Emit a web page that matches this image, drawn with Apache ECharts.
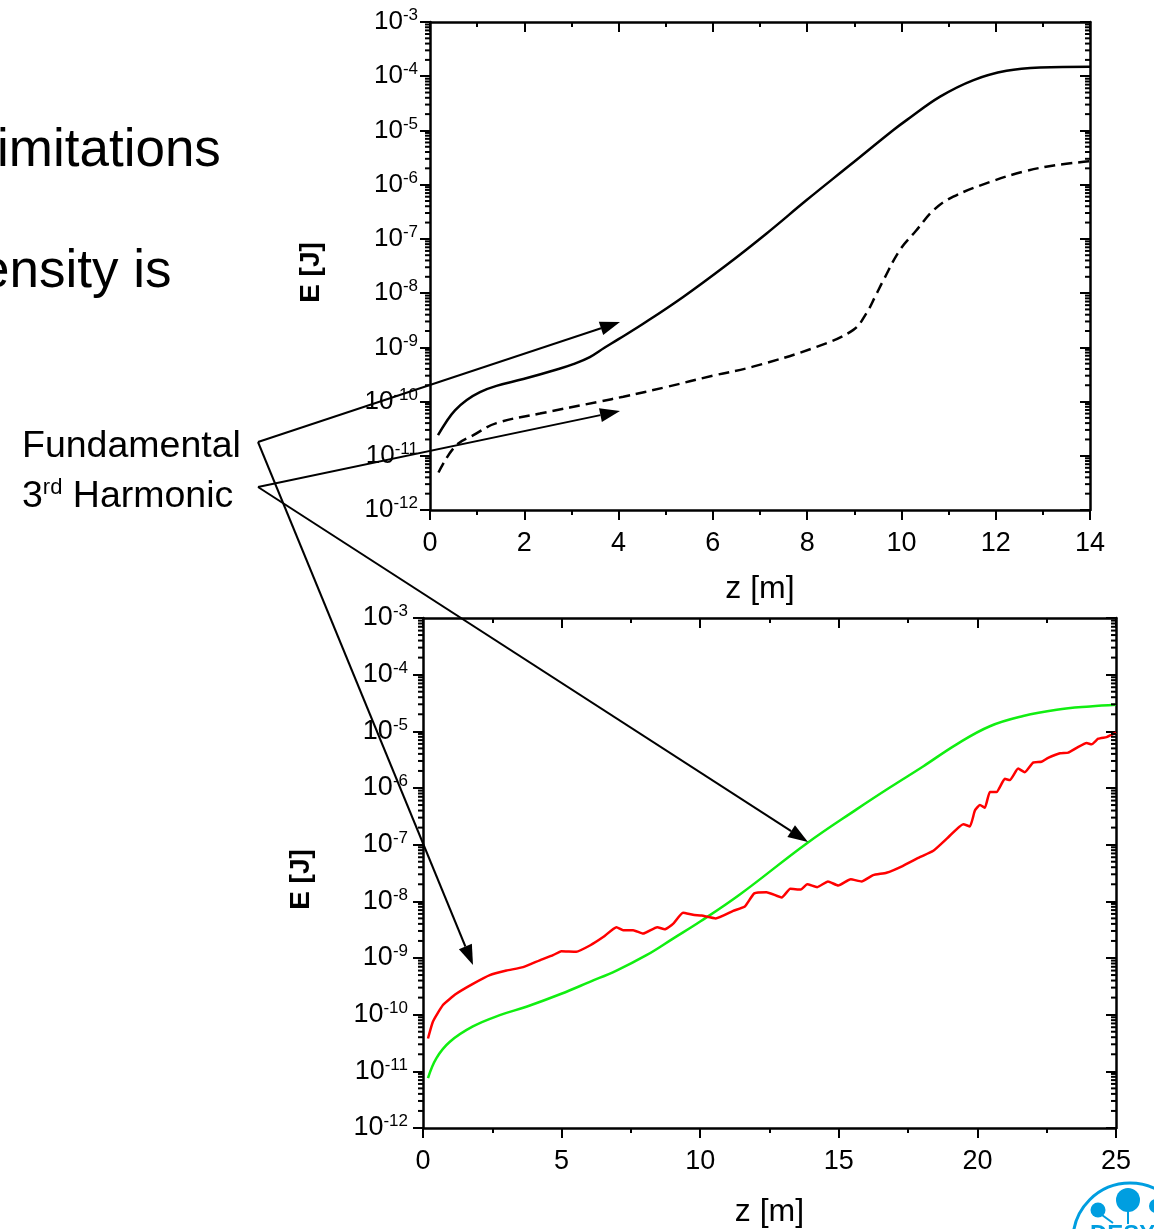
<!DOCTYPE html>
<html>
<head>
<meta charset="utf-8">
<script src="https://cdn.jsdelivr.net/npm/echarts@6/dist/echarts.min.js"></script>
<style>
  html, body { margin: 0; padding: 0; background: #fff; overflow: hidden; }
  #chart { width: 1154px; height: 1229px; }
</style>
</head>
<body>
<div id="chart"></div>
<script>
// top panel: z [m] and energy [J]
const topFundZ = [0.17, 0.35, 0.53, 0.78, 1.06, 1.41, 1.98, 2.69, 3.04, 3.39, 3.7, 3.99, 4.53, 5.37, 6.29, 7.14, 7.99, 8.91, 9.83, 10.11, 10.82, 11.53, 12.23, 12.94, 14];
const topFundE = [2.4e-11, 4.3e-11, 6.9e-11, 1.07e-10, 1.5e-10, 1.95e-10, 2.6e-10, 3.9e-10, 4.9e-10, 6.6e-10, 9.8e-10, 1.4e-9, 2.75e-9, 8.5e-9, 3.3e-8, 1.26e-7, 5.2e-7, 2.3e-6, 1.02e-5, 1.55e-5, 4.2e-5, 8.5e-5, 1.26e-4, 1.45e-4, 1.5e-4];
const topHarmZ = [0.18, 0.53, 0.92, 1.41, 2.33, 3.6, 4.1, 5.02, 6.0, 6.85, 8.2, 8.98, 9.26, 9.45, 9.62, 9.97, 10.3, 10.7, 11.1, 11.88, 12.59, 13.29, 14];
const topHarmE = [4.9e-12, 1.48e-11, 2.4e-11, 4.0e-11, 6.0e-11, 1.0e-10, 1.23e-10, 1.86e-10, 3.0e-10, 4.4e-10, 1.02e-9, 2.1e-9, 4.3e-9, 8.9e-9, 1.74e-8, 6.3e-8, 1.38e-7, 3.5e-7, 6.0e-7, 1.12e-6, 1.74e-6, 2.3e-6, 2.7e-6];

// bottom panel
const botHarmZ = [0.18, 0.48, 0.96, 1.8, 2.77, 3.73, 4.99, 6.02, 6.98, 8.06, 9.02, 10.0, 11.43, 13.84, 15.64, 16.84, 18.04, 19.25, 20.45, 21.65, 22.86, 24.06, 25];
const botHarmE = [7.6e-12, 1.7e-11, 3.3e-11, 6.2e-11, 9.8e-11, 1.38e-10, 2.34e-10, 3.8e-10, 6.0e-10, 1.12e-9, 2.2e-9, 4.4e-9, 1.32e-8, 1.05e-7, 4.2e-7, 1.02e-6, 2.4e-6, 5.9e-6, 1.23e-5, 1.86e-5, 2.4e-5, 2.75e-5, 2.95e-5];
const botFundZ = [0.18, 0.36, 0.72, 1.2, 1.8, 2.41, 3.01, 3.61, 4.21, 4.69, 4.99, 5.53, 6.02, 6.5, 6.98, 7.22, 7.58, 7.94, 8.45, 8.72, 9.02, 9.38, 9.74, 10.05, 10.56, 11.19, 11.61, 11.95, 12.39, 12.94, 13.25, 13.63, 13.86, 14.22, 14.61, 14.98, 15.43, 15.82, 16.24, 16.72, 17.3, 17.92, 18.41, 18.95, 19.49, 19.73, 19.91, 20.09, 20.27, 20.45, 20.69, 20.99, 21.17, 21.47, 21.71, 22.01, 22.31, 22.55, 22.98, 23.28, 23.58, 23.94, 24.12, 24.36, 24.66, 24.84, 25];
const botFundE = [3.8e-11, 7.6e-11, 1.48e-10, 2.34e-10, 3.5e-10, 5.0e-10, 6.0e-10, 6.9e-10, 9.1e-10, 1.12e-9, 1.32e-9, 1.29e-9, 1.66e-9, 2.34e-9, 3.5e-9, 3.1e-9, 3.1e-9, 2.7e-9, 3.5e-9, 3.2e-9, 4.0e-9, 6.3e-9, 5.8e-9, 5.6e-9, 5.0e-9, 6.8e-9, 8.1e-9, 1.38e-8, 1.45e-8, 1.17e-8, 1.66e-8, 1.62e-8, 2.0e-8, 1.78e-8, 2.24e-8, 1.9e-8, 2.45e-8, 2.24e-8, 2.9e-8, 3.2e-8, 4.2e-8, 6.0e-8, 7.8e-8, 1.35e-7, 2.3e-7, 2.1e-7, 4.0e-7, 5.0e-7, 4.5e-7, 8.5e-7, 8.5e-7, 1.45e-6, 1.38e-6, 2.2e-6, 1.9e-6, 2.8e-6, 2.9e-6, 3.4e-6, 4.1e-6, 4.2e-6, 5.1e-6, 6.2e-6, 5.9e-6, 7.4e-6, 7.9e-6, 8.7e-6, 9.5e-6];

const FONT = '"Liberation Sans", Arial, sans-serif';
const BLUE = '#009ee0';

function zip(xs, ys) { return xs.map((x, i) => [x, ys[i]]); }

// log minor ticks 2..9 in every decade
const minorVals = [];
for (let e = -12; e < -3; e++) {
  for (let m = 2; m <= 9; m++) minorVals.push(Number(m + 'e' + e));
}

function minorTicks(gi) {
  return {
    type: 'custom', xAxisIndex: gi * 2, yAxisIndex: gi * 2, silent: true, z: 5,
    data: minorVals.map(v => [1, v]),
    renderItem: function (params, api) {
      const cs = params.coordSys;
      const y = api.coord([api.value(0), api.value(1)])[1];
      const st = { stroke: '#000', lineWidth: 2 };
      return {
        type: 'group',
        children: [
          { type: 'line', shape: { x1: cs.x, y1: y, x2: cs.x - 5, y2: y }, style: st },
          { type: 'line', shape: { x1: cs.x + cs.width, y1: y, x2: cs.x + cs.width - 5, y2: y }, style: st }
        ]
      };
    }
  };
}

const LINE = { show: true, onZero: false, lineStyle: { color: '#000', width: 2.5 } };

function xAxes(gi, max, step, gap) {
  const common = {
    gridIndex: gi, type: 'value', min: 0, max: max, interval: step,
    axisLine: LINE,
    minorTick: { show: true, splitNumber: 2, length: 5, lineStyle: { color: '#000', width: 2 } },
    splitLine: { show: false }
  };
  return [
    Object.assign({}, common, {
      position: 'bottom',
      axisTick: { show: true, length: 10, lineStyle: { color: '#000', width: 2 } },
      axisLabel: { fontSize: 27, color: '#000', fontFamily: FONT, margin: 20 },
      name: 'z [m]', nameLocation: 'middle', nameGap: gap,
      nameTextStyle: { fontSize: 32, color: '#000', fontFamily: FONT }
    }),
    Object.assign({}, common, {
      position: 'top', axisLabel: { show: false },
      axisTick: { show: true, inside: true, length: 10, lineStyle: { color: '#000', width: 2 } }
    })
  ];
}

function yAxes(gi, fs, margin, gap) {
  const common = {
    gridIndex: gi, type: 'log', logBase: 10, min: 1e-12, max: 1e-3, splitNumber: 9,
    axisLine: LINE,
    splitLine: { show: false }
  };
  return [
    Object.assign({}, common, {
      position: 'left',
      axisTick: { show: true, length: 10, lineStyle: { color: '#000', width: 2 } },
      axisLabel: {
        margin: margin,
        formatter: v => '{b|10}{s|' + Math.round(Math.log10(v)) + '}',
        rich: {
          b: { fontSize: fs, fontFamily: FONT, color: '#000', lineHeight: 30 },
          s: { fontSize: 17, fontFamily: FONT, color: '#000', lineHeight: 14, verticalAlign: 'top' }
        }
      },
      name: 'E [J]', nameLocation: 'middle', nameGap: gap, nameRotate: 90,
      nameTextStyle: { fontSize: 28, fontWeight: 'bold', color: '#000', fontFamily: FONT, padding: [0, 13, 0, 0] }
    }),
    Object.assign({}, common, {
      position: 'right', axisLabel: { show: false },
      axisTick: { show: true, inside: true, length: 10, lineStyle: { color: '#000', width: 2 } }
    })
  ];
}

function arrow(x1, y1, x2, y2) {
  const a = Math.atan2(y2 - y1, x2 - x1), L = 20, W = 7;
  const bx = x2 - L * Math.cos(a), by = y2 - L * Math.sin(a);
  const nx = -Math.sin(a) * W, ny = Math.cos(a) * W;
  return [
    { type: 'line', shape: { x1: x1, y1: y1, x2: bx, y2: by }, style: { stroke: '#000', lineWidth: 2 }, z: 100 },
    { type: 'polygon', shape: { points: [[x2, y2], [bx + nx, by + ny], [bx - nx, by - ny]] }, style: { fill: '#000' }, z: 100 }
  ];
}

const graphics = [
  { type: 'text', x: -3, y: 151, style: { text: 'imitations', font: '53px ' + FONT, fill: '#000', textVerticalAlign: 'middle' } },
  { type: 'text', x: -20, y: 272, style: { text: 'ensity is', font: '53px ' + FONT, fill: '#000', textVerticalAlign: 'middle' } },
  { type: 'text', x: 22, y: 447, style: { text: 'Fundamental', font: '37.5px ' + FONT, fill: '#000', textVerticalAlign: 'middle' } },
  { type: 'text', x: 22, y: 497, style: {
      text: '{a|3}{s|rd}{a| Harmonic}', fill: '#000', textVerticalAlign: 'middle',
      rich: {
        a: { fontSize: 37.5, fontFamily: FONT, lineHeight: 40 },
        s: { fontSize: 22, fontFamily: FONT, lineHeight: 24, verticalAlign: 'top' }
      }
  } }
]
  .concat(arrow(258, 442, 620, 322))
  .concat(arrow(258, 442, 473, 965))
  .concat(arrow(258, 487, 620, 411))
  .concat(arrow(258, 487, 808, 842))
  .concat([
    { type: 'circle', shape: { cx: 1130, cy: 1240, r: 57 }, style: { fill: 'none', stroke: BLUE, lineWidth: 3 } },
    { type: 'circle', shape: { cx: 1128, cy: 1200, r: 12 }, style: { fill: BLUE } },
    { type: 'line', shape: { x1: 1128, y1: 1210, x2: 1128, y2: 1224 }, style: { stroke: BLUE, lineWidth: 2 } },
    { type: 'circle', shape: { cx: 1098, cy: 1210, r: 7.5 }, style: { fill: BLUE } },
    { type: 'line', shape: { x1: 1102, y1: 1215, x2: 1113, y2: 1223 }, style: { stroke: BLUE, lineWidth: 2 } },
    { type: 'circle', shape: { cx: 1156, cy: 1206, r: 7 }, style: { fill: BLUE } },
    { type: 'text', x: 1090, y: 1223, style: { text: 'DESY', font: 'bold 24px ' + FONT, fill: BLUE } }
  ]);

const chart = echarts.init(document.getElementById('chart'));
chart.setOption({
  animation: false,
  backgroundColor: '#fff',
  grid: [
    { left: 430, top: 22, width: 660, height: 488 },
    { left: 423, top: 618, width: 693, height: 512 }
  ],
  xAxis: xAxes(0, 14, 2, 63).concat(xAxes(1, 25, 5, 68)),
  yAxis: yAxes(0, 26, 12, 105).concat(yAxes(1, 27, 15, 108)),
  series: [
    { type: 'line', xAxisIndex: 0, yAxisIndex: 0, data: zip(topFundZ, topFundE), showSymbol: false,
      smooth: 0.4, lineStyle: { color: '#000', width: 2.5 } },
    { type: 'line', xAxisIndex: 0, yAxisIndex: 0, data: zip(topHarmZ, topHarmE), showSymbol: false,
      smooth: 0.4, lineStyle: { color: '#000', width: 2.5, type: [11, 6] } },
    { type: 'line', xAxisIndex: 2, yAxisIndex: 2, data: zip(botHarmZ, botHarmE), showSymbol: false,
      smooth: 0.4, lineStyle: { color: '#11ee11', width: 2.5 } },
    { type: 'line', xAxisIndex: 2, yAxisIndex: 2, data: zip(botFundZ, botFundE), showSymbol: false,
      smooth: 0.15, lineStyle: { color: '#ff0000', width: 2.5 } },
    minorTicks(0),
    minorTicks(1)
  ],
  graphic: graphics
});
</script>
</body>
</html>
